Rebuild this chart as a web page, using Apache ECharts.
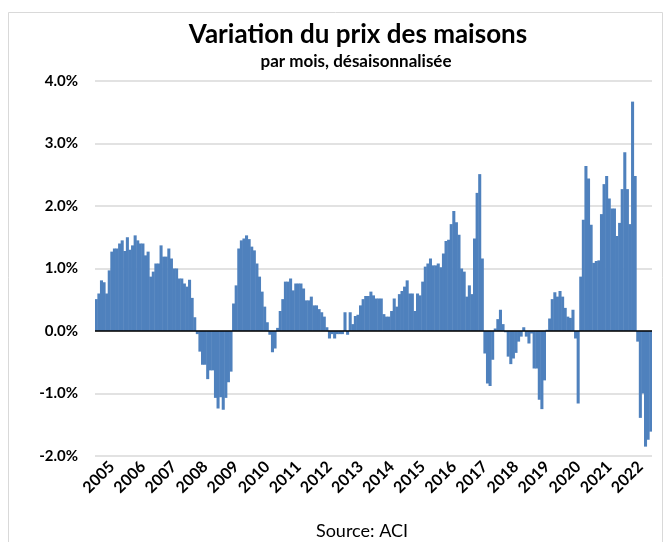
<!DOCTYPE html>
<html>
<head>
<meta charset="utf-8">
<title>Variation du prix des maisons</title>
<script src="https://cdn.jsdelivr.net/npm/echarts@6/dist/echarts.min.js"></script>
<style>
    html, body { margin: 0; padding: 0; background: #fff; }
    #chart { width: 667px; height: 542px; }
</style>
</head>
<body>
<div id="chart"></div>
<script>
    // données
    var firstYear = 2005;
    var lastYear = 2022;
    var yTicks = [-2, -1, 0, 1, 2, 3, 4];

    // variation mensuelle (%), une ligne par année
    var change = [
        0.51, 0.60, 0.81, 0.78, 0.60, 0.97, 1.27, 1.32, 1.32, 1.40, 1.45, 1.28,
        1.50, 1.30, 1.37, 1.53, 1.45, 1.40, 1.40, 1.21, 1.27, 0.87, 0.95, 1.08,
        1.08, 1.37, 1.19, 1.19, 1.32, 1.16, 1.00, 1.00, 0.84, 0.84, 0.76, 0.71,
        0.82, 0.53, 0.22, -0.05, -0.33, -0.54, -0.54, -0.77, -0.63, -0.63, -1.07, -1.24,
        -1.06, -1.26, -1.07, -0.82, -0.65, 0.44, 0.73, 1.32, 1.45, 1.48, 1.53, 1.47,
        1.35, 1.29, 1.08, 0.87, 0.63, 0.39, 0.14, -0.06, -0.34, -0.28, 0.05, 0.32,
        0.51, 0.79, 0.79, 0.84, 0.65, 0.76, 0.76, 0.76, 0.68, 0.49, 0.49, 0.55,
        0.41, 0.41, 0.35, 0.30, 0.23, 0.06, -0.12, -0.05, -0.12, -0.05, -0.05, -0.05,
        0.30, -0.06, 0.30, 0.11, 0.24, 0.26, 0.41, 0.51, 0.56, 0.56, 0.63, 0.57,
        0.52, 0.52, 0.52, 0.27, 0.23, 0.23, 0.32, 0.52, 0.39, 0.59, 0.64, 0.71,
        0.81, 0.60, 0.60, 0.32, 0.60, 0.57, 0.79, 1.03, 1.08, 1.16, 1.05, 1.05,
        1.08, 1.02, 1.24, 1.44, 1.46, 1.71, 1.92, 1.74, 1.54, 1.00, 0.95, 0.55,
        0.73, 0.59, 1.48, 2.21, 2.51, 1.16, -0.36, -0.84, -0.88, -0.46, 0.04, 0.19,
        0.34, 0.11, -0.02, -0.41, -0.53, -0.44, -0.35, -0.17, -0.09, 0.06, -0.09, -0.20,
        -0.04, -0.60, -0.60, -1.10, -1.25, -0.79, 0.02, 0.20, 0.51, 0.62, 0.55, 0.64,
        0.55, 0.37, 0.23, 0.21, 0.34, -0.12, -1.16, 0.87, 1.78, 2.64, 2.44, 1.70,
        1.09, 1.12, 1.13, 1.87, 2.35, 2.48, 2.12, 1.96, 1.96, 1.52, 1.73, 2.27,
        2.86, 2.27, 1.71, 3.67, 2.48, -0.17, -1.39, -1.00, -1.85, -1.74, -1.61
    ];

    // catégories mensuelles AAAA-MM
    var months = [];
    for (var y = firstYear; y <= lastYear; y++) {
        for (var m = 1; m <= 12; m++) {
            if (months.length < change.length) {
                months.push(y + '-' + (m < 10 ? '0' + m : m));
            }
        }
    }

    var font = 'Lato, "Open Sans", sans-serif';
    var chart = echarts.init(document.getElementById('chart'), null, { renderer: 'canvas' });

    var option = {
        animation: false,
        backgroundColor: '#fff',
        graphic: [
            {
                type: 'rect',
                shape: { x: 8.5, y: 12.5, width: 654, height: 540 },
                style: { fill: 'none', stroke: '#d9d9d9', lineWidth: 1 },
                silent: true
            },
            {
                type: 'text',
                x: 358, y: 35,
                style: {
                    text: 'Variation du prix des maisons',
                    font: 'bold 26px ' + font,
                    fill: '#000',
                    align: 'center',
                    verticalAlign: 'middle'
                }
            },
            {
                type: 'text',
                x: 356, y: 62,
                style: {
                    text: 'par mois, désaisonnalisée',
                    font: 'bold 17px ' + font,
                    fill: '#000',
                    align: 'center',
                    verticalAlign: 'middle'
                }
            },
            {
                type: 'text',
                x: 362, y: 531,
                style: {
                    text: 'Source: ACI',
                    font: '18px ' + font,
                    fill: '#000',
                    align: 'center',
                    verticalAlign: 'middle'
                }
            }
        ],
        grid: {
            left: 95,
            right: 15,
            top: 81,
            bottom: 86
        },
        xAxis: {
            type: 'category',
            data: months,
            axisLine: { show: false, onZero: false },
            axisTick: { show: false },
            axisLabel: {
                // année affichée au milieu de chaque année
                interval: function (idx) { return idx % 12 === 6; },
                formatter: function (v) { return v.slice(0, 4); },
                rotate: 45,
                margin: 8,
                fontFamily: font,
                fontWeight: 'bold',
                fontSize: 16,
                color: '#000'
            },
            splitLine: { show: false }
        },
        yAxis: {
            type: 'value',
            min: yTicks[0],
            max: yTicks[yTicks.length - 1],
            interval: 1,
            axisLine: { show: false },
            axisTick: { show: false },
            axisLabel: {
                formatter: function (v) { return v.toFixed(1) + '%'; },
                margin: 17,
                fontFamily: font,
                fontWeight: 'bold',
                fontSize: 15,
                color: '#000'
            },
            splitLine: { lineStyle: { color: '#d9d9d9', width: 1.5 } }
        },
        series: [{
            name: 'Variation',
            type: 'bar',
            data: change,
            // barres légèrement plus larges que la case pour supprimer les joints blancs
            barWidth: '118%',
            itemStyle: { color: '#4f81bd' },
            markLine: {
                silent: true,
                symbol: 'none',
                label: { show: false },
                lineStyle: { color: '#000', width: 1.5, type: 'solid' },
                data: [{ yAxis: 0 }]
            }
        }]
    };

    chart.setOption(option);
</script>
</body>
</html>
